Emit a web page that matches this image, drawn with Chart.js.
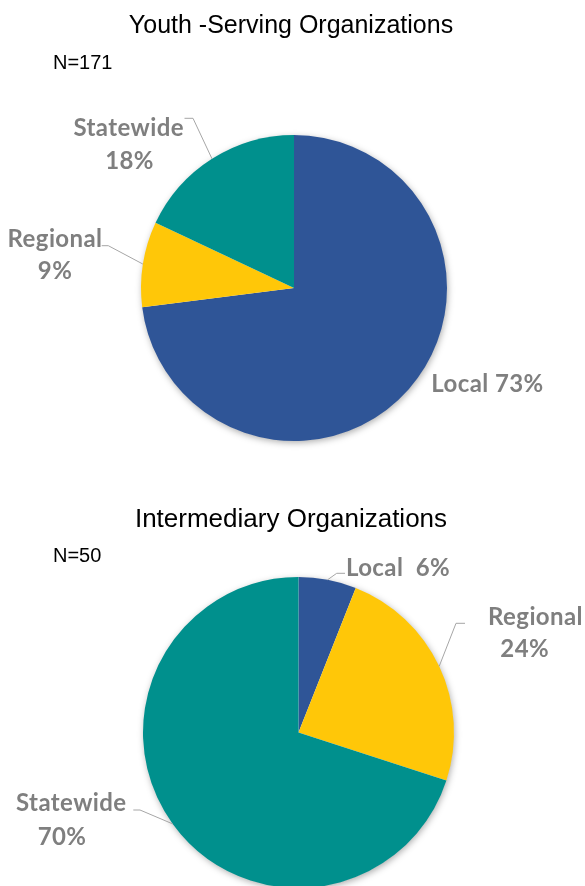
<!DOCTYPE html>
<html>
<head>
<meta charset="utf-8">
<script src="https://cdn.jsdelivr.net/npm/chart.js@4.4.1/dist/chart.umd.min.js"></script>
<style>
  html, body { margin: 0; padding: 0; background: #fff; overflow: hidden; }
  canvas { position: absolute; left: 0; top: 0; }
</style>
</head>
<body>
<canvas id="youthChart" width="585" height="890"></canvas>
<canvas id="interChart" width="585" height="890"></canvas>
<script>
// data
const categories = ['Local', 'Regional', 'Statewide'];
const youthValues = [73, 9, 18];
const interValues = [6, 24, 70];
const chartTitles = ['Youth -Serving Organizations', 'Intermediary Organizations'];
const sampleSizes = [171, 50];
const sliceColors = ['#2F5597', '#FFC708', '#00908D'];

// draws the soft shadow under the pie, the titles and the slice labels with leaders
const annotate = {
    id: 'annotate',
    beforeDatasetsDraw(chart) {
        const arc = chart.getDatasetMeta(0).data[0];
        const {x, y, outerRadius} = arc.getProps(['x', 'y', 'outerRadius'], true);
        const ctx = chart.ctx;
        ctx.save();
        ctx.shadowColor = 'rgba(0,0,0,0.35)';
        ctx.shadowBlur = 7;
        ctx.shadowOffsetX = 1;
        ctx.shadowOffsetY = 2;
        ctx.fillStyle = '#fff';
        ctx.beginPath();
        ctx.arc(x, y, outerRadius - 0.5, 0, Math.PI * 2);
        ctx.fill();
        ctx.restore();
    },
    afterDatasetsDraw(chart, args, opts) {
        const ctx = chart.ctx;
        ctx.save();
        ctx.fillStyle = '#000';
        ctx.textBaseline = 'alphabetic';
        ctx.textAlign = 'center';
        ctx.font = opts.titleFont;
        ctx.fillText(opts.title, opts.titleAt[0], opts.titleAt[1]);
        ctx.textAlign = 'left';
        ctx.font = '20px "Liberation Sans", Arial, sans-serif';
        ctx.fillText('N=' + opts.n, opts.nAt[0], opts.nAt[1]);

        const meta = chart.getDatasetMeta(0);
        const values = chart.data.datasets[0].data;
        ctx.font = 'bold 24px Lato, "Open Sans", sans-serif';
        ctx.letterSpacing = '0.4px';
        ctx.textAlign = 'center';
        ctx.strokeStyle = '#A6A6A6';
        ctx.lineWidth = 1;
        opts.labels.forEach((lab, i) => {
            const name = chart.data.labels[i];
            const pct = values[i] + '%';
            const lines = lab.lines.length === 1 ? [name + lab.sep + pct] : [name, pct];
            ctx.fillStyle = '#7F7F7F';
            lines.forEach((t, k) => ctx.fillText(t, lab.lines[k][0], lab.lines[k][1]));
            if (lab.elbow) {
                const a = meta.data[i].getProps(['x', 'y', 'startAngle', 'endAngle', 'outerRadius'], true);
                const mid = (a.startAngle + a.endAngle) / 2;
                ctx.beginPath();
                ctx.moveTo(a.x + Math.cos(mid) * a.outerRadius, a.y + Math.sin(mid) * a.outerRadius);
                ctx.lineTo(lab.elbow[0], lab.elbow[1]);
                ctx.lineTo(lab.end[0], lab.end[1]);
                ctx.stroke();
            }
        });
        ctx.restore();
    }
};

function makePie(id, values, padding, annot) {
    return new Chart(document.getElementById(id), {
        type: 'pie',
        data: {
            labels: categories,
            datasets: [{
                data: values,
                backgroundColor: sliceColors,
                borderWidth: 0
            }]
        },
        options: {
            responsive: false,
            animation: false,
            events: [],
            layout: { padding: padding },
            plugins: {
                legend: { display: false },
                tooltip: { enabled: false },
                annotate: annot
            }
        },
        plugins: [annotate]
    });
}

makePie('youthChart', youthValues, { top: 135, left: 141, right: 138, bottom: 449 }, {
    title: chartTitles[0],
    titleFont: '25px "Liberation Sans", Arial, sans-serif',
    titleAt: [291, 33],
    n: sampleSizes[0],
    nAt: [53, 69],
    labels: [
        { lines: [[487.5, 391.7]], sep: ' ' },
        { lines: [[55, 246.7], [55, 279]], elbow: [108.3, 245.7], end: [101.7, 245.7] },
        { lines: [[128.7, 135.7], [129.5, 169.3]], elbow: [193, 118.3], end: [184.5, 118.3] }
    ]
});

makePie('interChart', interValues, { top: 577, left: 143, right: 131, bottom: 2 }, {
    title: chartTitles[1],
    titleFont: '26px "Liberation Sans", Arial, sans-serif',
    titleAt: [291, 527],
    n: sampleSizes[1],
    nAt: [53, 562],
    labels: [
        { lines: [[398, 575.7]], sep: '  ', elbow: [336.7, 573.3], end: [345, 573.3] },
        { lines: [[535.5, 625], [524.7, 656.7]], elbow: [456, 623.3], end: [465, 623.3] },
        { lines: [[71.3, 811], [62, 845]], elbow: [140, 810], end: [133.3, 810] }
    ]
});
</script>
</body>
</html>
